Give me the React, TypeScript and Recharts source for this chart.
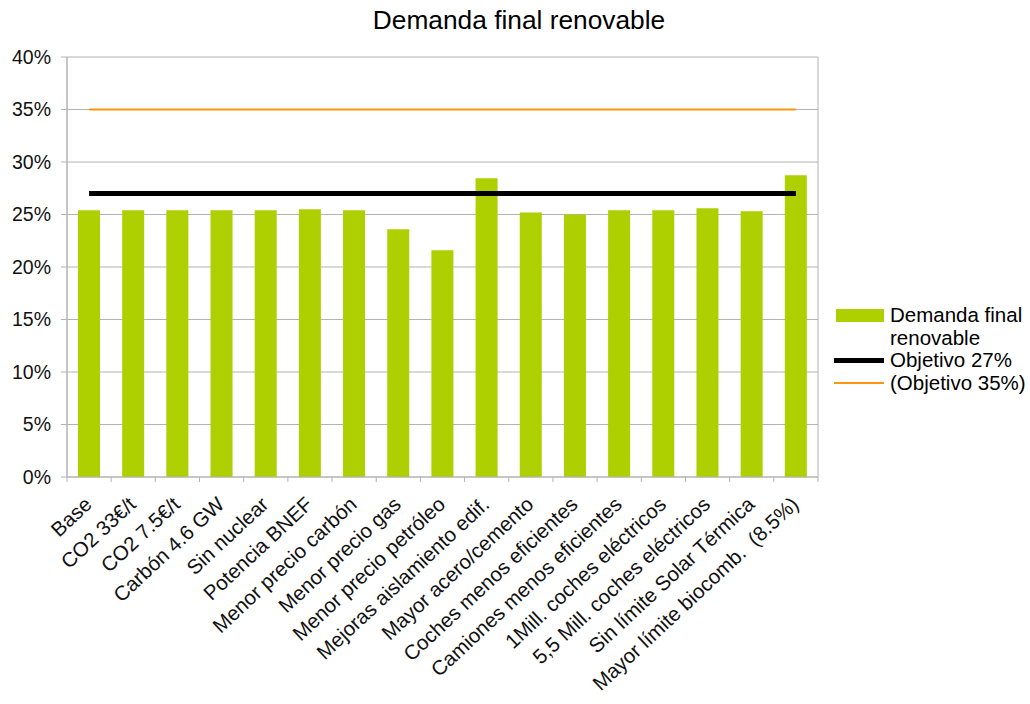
import React from "react";
import { ComposedChart, Bar, Line, XAxis, YAxis, CartesianGrid } from "recharts";

const categories = [
  "Base",
  "CO2 33€/t",
  "CO2 7.5€/t",
  "Carbón 4.6 GW",
  "Sin nuclear",
  "Potencia BNEF",
  "Menor precio carbón",
  "Menor precio gas",
  "Menor precio petróleo",
  "Mejoras aislamiento edif.",
  "Mayor acero/cemento",
  "Coches menos eficientes",
  "Camiones menos eficientes",
  "1Mill. coches eléctricos",
  "5,5 Mill. coches eléctricos",
  "Sin límite Solar Térmica",
  "Mayor límite biocomb.  (8.5%)",
];
const demanda = [25.4, 25.4, 25.4, 25.4, 25.4, 25.5, 25.4, 23.6, 21.6, 28.45, 25.2, 25.0, 25.4, 25.4, 25.6, 25.3, 28.75];
const objetivo27 = categories.map(() => 27);
const objetivo35 = categories.map(() => 35);
const yTicks = [0, 5, 10, 15, 20, 25, 30, 35, 40];

const data = categories.map((name, i) => ({
  name,
  demanda: demanda[i],
  obj27: objetivo27[i],
  obj35: objetivo35[i],
}));

const FONT = "'Liberation Sans', Arial, sans-serif";
const PLOT_LEFT = 67;
const PLOT_RIGHT = 818;
const PLOT_TOP = 57;
const PLOT_BOTTOM = 477;
const W = 1030;
const H = 704;
const HALF_BAND = (PLOT_RIGHT - PLOT_LEFT) / categories.length / 2;

const XTick = (props: any) => {
  const { x, y, payload, index } = props;
  const ax = x + 4;
  const ay = y + 29;
  return (
    <g>
      <line x1={x - HALF_BAND} y1={y} x2={x - HALF_BAND} y2={y + 5} stroke="#b3b3b3" />
      {index === categories.length - 1 && (
        <line x1={x + HALF_BAND} y1={y} x2={x + HALF_BAND} y2={y + 5} stroke="#b3b3b3" />
      )}
      <text
        x={ax}
        y={ay}
        transform={`rotate(-43, ${ax}, ${ay})`}
        textAnchor="end"
        fontSize={20.5}
        fill="#111"
        fontFamily={FONT}
        style={{ whiteSpace: "pre" }}
      >
        {payload.value}
      </text>
    </g>
  );
};

export default function App() {
  return (
    <div style={{ position: "absolute", left: 0, top: 0, width: W, height: H, background: "#fff", fontFamily: FONT }}>
      <div
        style={{
          position: "absolute",
          left: 0,
          top: 5,
          width: W,
          textAlign: "center",
          fontSize: 26.3,
          color: "#000",
          paddingLeft: 4,
        }}
      >
        Demanda final renovable
      </div>
      <ComposedChart
        width={W}
        height={H}
        data={data}
        margin={{ top: PLOT_TOP, left: PLOT_LEFT - 60, right: W - PLOT_RIGHT, bottom: H - PLOT_BOTTOM - 220 }}
      >
        <CartesianGrid stroke="#b3b3b3" verticalPoints={[PLOT_LEFT, PLOT_RIGHT]} />
        <XAxis
          dataKey="name"
          interval={0}
          height={220}
          tick={<XTick />}
          tickLine={false}
          tickSize={0}
          tickMargin={0}
          axisLine={{ stroke: "#b3b3b3" }}
        />
        <YAxis
          width={60}
          domain={[0, 40]}
          ticks={yTicks}
          tickFormatter={(v: number) => `${v}%`}
          tick={{ fontSize: 19.5, fill: "#111", fontFamily: FONT }}
          tickSize={6}
          tickMargin={10}
          tickLine={{ stroke: "#b3b3b3" }}
          axisLine={{ stroke: "#b3b3b3" }}
        />
        <Bar dataKey="demanda" fill="#aecf00" barSize={22} isAnimationActive={false} />
        <Line dataKey="obj27" type="linear" stroke="#000" strokeWidth={5} dot={false} isAnimationActive={false} />
        <Line dataKey="obj35" type="linear" stroke="#ff950e" strokeWidth={2} dot={false} isAnimationActive={false} />
      </ComposedChart>
      <div style={{ position: "absolute", left: 834, top: 304, fontSize: 20.5, color: "#000", lineHeight: "22.5px" }}>
        <div style={{ display: "flex", alignItems: "flex-start" }}>
          <div style={{ width: 48, height: 13, background: "#aecf00", marginTop: 5, marginLeft: 2, marginRight: 6 }} />
          <div>
            Demanda final
            <br />
            renovable
          </div>
        </div>
        <div style={{ display: "flex", alignItems: "center" }}>
          <div style={{ width: 50, height: 5, background: "#000", marginRight: 6 }} />
          <div>Objetivo 27%</div>
        </div>
        <div style={{ display: "flex", alignItems: "center" }}>
          <div style={{ width: 50, height: 2, background: "#ff950e", marginRight: 6 }} />
          <div>(Objetivo 35%)</div>
        </div>
      </div>
    </div>
  );
}
